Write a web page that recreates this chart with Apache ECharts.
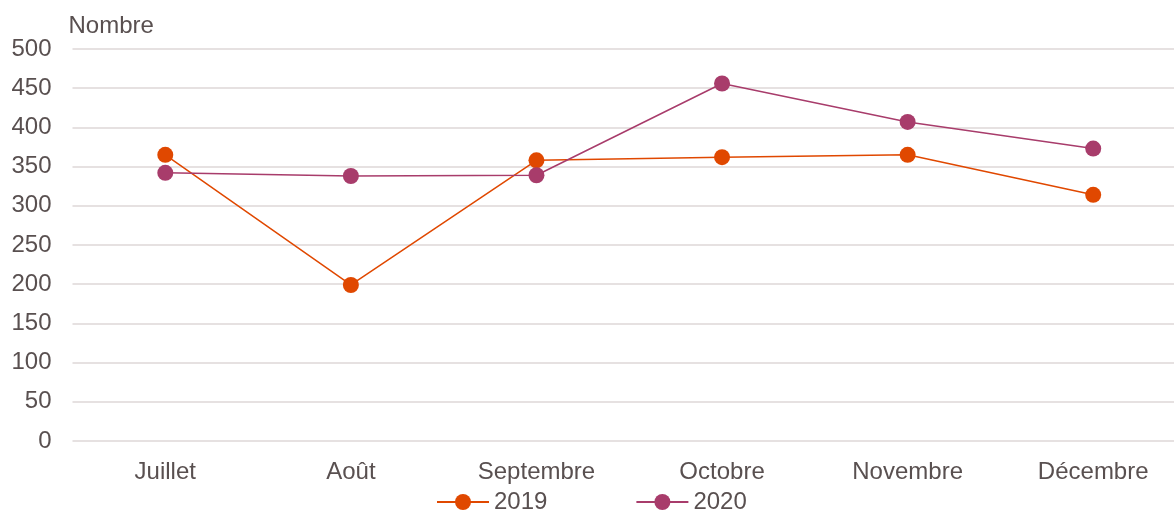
<!DOCTYPE html>
<html>
<head>
<meta charset="utf-8">
<script src="https://cdn.jsdelivr.net/npm/echarts@6/dist/echarts.min.js"></script>
<style>html,body{margin:0;padding:0;background:#fff;overflow:hidden}#c{width:1186px;height:510px}</style>
</head>
<body>
<div id="c"></div>
<script>
const categories = ['Juillet', 'Août', 'Septembre', 'Octobre', 'Novembre', 'Décembre'];
const series2019 = [365, 199, 358, 362, 365, 314];
const series2020 = [342, 338, 339, 456, 407, 373];
const yTicks = { min: 0, max: 500, interval: 50 };

const textColor = '#595050';
const font = 'Liberation Sans, Arial, sans-serif';
const fs = 24;
const chart = echarts.init(document.getElementById('c'), null, { renderer: 'canvas' });
chart.setOption({
  animation: false,
  textStyle: { fontFamily: font },
  grid: { left: 72.5, right: 0, top: 49, height: 392, containLabel: false },
  legend: {
    data: ['2019', '2020'],
    top: 485,
    left: 431,
    itemWidth: 52,
    itemHeight: 20,
    itemGap: 88,
    textStyle: { color: textColor, fontSize: fs, fontFamily: font }
  },
  xAxis: {
    type: 'category',
    data: categories,
    boundaryGap: true,
    axisLine: { show: false },
    axisTick: { show: false },
    axisLabel: { color: textColor, fontSize: fs, margin: 19, fontFamily: font }
  },
  yAxis: {
    type: 'value',
    min: yTicks.min, max: yTicks.max, interval: yTicks.interval,
    name: 'Nombre',
    nameLocation: 'end',
    nameGap: 11,
    nameTextStyle: { color: textColor, fontSize: fs, align: 'left', padding: [0, 0, 0, -4], fontFamily: font },
    axisLine: { show: false },
    axisTick: { show: false },
    axisLabel: { color: textColor, fontSize: fs, margin: 21, fontFamily: font },
    splitLine: { lineStyle: { color: '#E6E1E1', width: 2 } }
  },
  series: [
    {
      name: '2019', type: 'line', data: series2019,
      symbol: 'circle', symbolSize: 16,
      itemStyle: { color: '#E04800' },
      lineStyle: { color: '#E04800', width: 1.5 }
    },
    {
      name: '2020', type: 'line', data: series2020,
      symbol: 'circle', symbolSize: 16,
      itemStyle: { color: '#A83C6B' },
      lineStyle: { color: '#A83C6B', width: 1.5 }
    }
  ]
});
</script>
</body>
</html>
